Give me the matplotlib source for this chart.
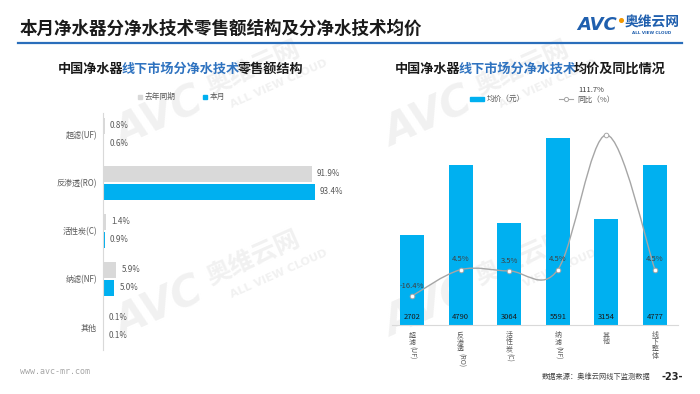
import numpy as np
import matplotlib
matplotlib.use("Agg")
import matplotlib.pyplot as plt
from matplotlib.path import Path
from matplotlib.patches import PathPatch, Rectangle
from matplotlib.lines import Line2D

plt.rcParams['font.family'] = ['Noto Sans CJK SC', 'DejaVu Sans']

# left chart: retail share by technology (%)
tech = ["超滤(UF)", "反渗透(RO)", "活性炭(C)", "纳滤(NF)", "其他"]
share_last = [0.8, 91.9, 1.4, 5.9, 0.1]
share_now = [0.6, 93.4, 0.9, 5.0, 0.1]

# right chart: average price (yuan) and yoy (%)
price_cats = ["超滤", "反渗透", "活性炭", "纳滤", "其他", "线下整体"]
price_tags = ["(UF)", "(RO)", "(C)", "(NF)", "", ""]
avg_price = [2702, 4790, 3064, 5591, 3154, 4777]
yoy = [-16.4, 4.5, 3.5, 4.5, 111.7, 4.5]

W, H = 700, 394
BLUE = "#00b0f0"
GREY = "#d9d9d9"
NAVY = "#1f5fae"
HILITE = "#2f73c0"
TXT = "#595959"


def fx(px):
    return px / W


def fy(py):
    return 1 - py / H


fig = plt.figure(figsize=(7, 3.94), dpi=100)


def watermark(x0, y0):
    kw = dict(color="#f1f1f1", rotation=24, rotation_mode="anchor",
              zorder=-5, ha="left", va="baseline")
    fig.text(fx(x0), fy(y0), "AVC", fontsize=30, fontweight="bold",
             style="italic", family="DejaVu Sans", **kw)
    fig.text(fx(x0 + 88), fy(y0 - 53), "奥维云网", fontsize=18,
             fontweight="bold", **kw)
    fig.text(fx(x0 + 110), fy(y0 - 40), "ALL VIEW CLOUD", fontsize=8,
             fontweight="bold", family="DejaVu Sans", **kw)


for wx in (122, 391):
    for wy in (148, 338):
        watermark(wx, wy)


def subtitle(xc, ybase, parts, size, pitch):
    # each coloured piece centred on its own run of full-width characters
    total = sum(len(p) for p, _ in parts)
    n = 0
    for text, col in parts:
        cx = xc + (n + len(text) / 2 - total / 2) * pitch
        fig.text(fx(cx), fy(ybase), text, fontsize=size, color=col,
                 fontweight="bold", va="baseline", ha="center")
        n += len(text)


# header
fig.text(fx(20), fy(28.5), "本月净水器分净水技术零售额结构及分净水技术均价",
         fontsize=12.6, fontweight="bold", color="#1a1a1a", va="center")
fig.add_artist(Line2D([fx(18), fx(682)], [fy(42.5), fy(42.5)],
                      transform=fig.transFigure, color="#2a6ebb", lw=1.6))
fig.text(fx(577), fy(30), "AVC", fontsize=13, fontweight="bold",
         style="italic", family="DejaVu Sans", color=NAVY, va="baseline")
fig.add_artist(Line2D([fx(621)], [fy(20)], transform=fig.transFigure,
                      marker="o", ms=2.6, color="#f39800", ls="none"))
fig.text(fx(625), fy(23), "奥维云网", fontsize=9.9, fontweight="bold",
         color=NAVY, va="center")
fig.text(fx(652), fy(32.5), "ALL VIEW CLOUD", fontsize=3, fontweight="bold",
         family="DejaVu Sans", color=NAVY, va="center", ha="center")

subtitle(180.5, 72.5, [("中国净水器", "#1a1a1a"), ("线下市场分净水技术", HILITE),
                       ("零售额结构", "#1a1a1a")], 9.45, 12.85)
subtitle(530, 72.5, [("中国净水器", "#1a1a1a"), ("线下市场分净水技术", HILITE),
                     ("均价及同比情况", "#1a1a1a")], 9.45, 12.85)

# ---- left chart ----
ax1 = fig.add_axes([fx(103), fy(350), (330 - 103) / W, (350 - 113) / H])
ax1.set_facecolor("none")
y = np.arange(len(tech))
off, bh = 9 / 48, 16 / 48
ax1.barh(y - off, share_last, height=bh, color=GREY, label="去年同期")
ax1.barh(y + off, share_now, height=bh, color=BLUE, label="本月")
for yi, a, b in zip(y, share_last, share_now):
    ax1.annotate(f"{a:.1f}%", (a, yi - off), xytext=(3.6, 0),
                 textcoords="offset points", va="center", fontsize=5.8,
                 color=TXT)
    ax1.annotate(f"{b:.1f}%", (b, yi + off), xytext=(3.6, 0),
                 textcoords="offset points", va="center", fontsize=5.8,
                 color=TXT)
ax1.set_xlim(0, 100)
ax1.set_ylim(4 + 23 / 48, -22 / 48)
ax1.set_yticks(y)
ax1.set_yticklabels(tech, fontsize=5.8, color=TXT)
ax1.tick_params(axis="y", length=0, pad=4.3)
ax1.set_xticks([])
for s in ("top", "right", "bottom"):
    ax1.spines[s].set_visible(False)
ax1.spines["left"].set_color(GREY)
ax1.spines["left"].set_linewidth(0.8)

# left legend
fig.add_artist(Rectangle((fx(138), fy(99)), 4 / W, 4 / H,
                         transform=fig.transFigure, color=GREY))
fig.text(fx(145), fy(97), "去年同期", fontsize=5.6, color=TXT, va="center")
fig.add_artist(Rectangle((fx(203), fy(99)), 4 / W, 4 / H,
                         transform=fig.transFigure, color=BLUE))
fig.text(fx(210), fy(97), "本月", fontsize=5.6, color=TXT, va="center")

# ---- right chart ----
step = 48.6
ax2 = fig.add_axes([fx(392), fy(325), (678 - 392) / W, (325 - 120) / H])
ax2.set_facecolor("none")
x = np.arange(len(price_cats))
ax2.bar(x, avg_price, width=0.49, color=BLUE, zorder=2)
ax2.set_xlim((392 - 412) / step, (678 - 412) / step)
ax2.set_ylim(0, 205 / 0.03345)
for xi, v in zip(x, avg_price):
    ax2.annotate(str(v), (xi, 0), xytext=(0, 5.8), textcoords="offset points",
                 ha="center", va="center", fontsize=5.5, color="#1a1a1a",
                 zorder=5)
ax2.set_xticks([])
ax2.set_yticks([])
for s in ("top", "right", "left"):
    ax2.spines[s].set_visible(False)
ax2.spines["bottom"].set_color(GREY)
ax2.spines["bottom"].set_linewidth(0.8)

# vertical category labels
for i, (name, tag) in enumerate(zip(price_cats, price_tags)):
    for k, ch in enumerate(name):
        ax2.annotate(ch, (i, 0), xycoords=("data", "axes fraction"),
                     xytext=(0, -(10.5 + 6.9 * k) * 0.72),
                     textcoords="offset points", ha="center", va="center",
                     fontsize=5, color=TXT)
    if tag:
        ax2.annotate(tag, (i, 0), xycoords=("data", "axes fraction"),
                     xytext=(0, -(7.5 + 6.9 * len(name)) * 0.72),
                     textcoords="offset points", ha="center", va="top",
                     rotation=270, fontsize=5, color=TXT)

ax3 = ax2.twinx()
ax3.set_ylim(-39.5, 123.6)
ax3.set_yticks([])
for s in ax3.spines.values():
    s.set_visible(False)

# smoothed yoy line (cubic bezier through the points, built in screen space)
pts = ax3.transData.transform(np.column_stack([x, yoy]))
ext = np.vstack([pts[0], pts, pts[-1]])
verts = [pts[0]]
codes = [Path.MOVETO]
for i in range(len(pts) - 1):
    p0, p1, p2, p3 = ext[i], ext[i + 1], ext[i + 2], ext[i + 3]
    verts += [p1 + (p2 - p0) / 6, p2 - (p3 - p1) / 6, p2]
    codes += [Path.CURVE4] * 3
verts = ax3.transData.inverted().transform(np.array(verts))
ax3.add_patch(PathPatch(Path(verts, codes), fill=False, edgecolor="#a6a6a6",
                        lw=1, zorder=3, clip_on=False))
ax3.plot(x, yoy, "o", ms=3.3, mfc="white", mec="#a6a6a6", mew=0.7,
         ls="none", zorder=4, clip_on=False)
for xi, v in zip(x, yoy):
    dx, dy = (-10.8, 32.5) if v > 100 else (0, 7.5)
    ax3.annotate(f"{v:.1f}%", (xi, v), xytext=(dx, dy),
                 textcoords="offset points", ha="center", va="center",
                 fontsize=5.5, color="#404040", zorder=5)

# right legend
fig.add_artist(Rectangle((fx(470), fy(101)), 14 / W, 4 / H,
                         transform=fig.transFigure, color=BLUE))
fig.text(fx(487), fy(99), "均价（元）", fontsize=5.5, color=TXT, va="center")
fig.add_artist(Line2D([fx(559), fx(573)], [fy(99), fy(99)],
                      transform=fig.transFigure, color="#a6a6a6", lw=0.8))
fig.add_artist(Line2D([fx(566)], [fy(99)], transform=fig.transFigure,
                      marker="o", ms=3, mfc="white", mec="#a6a6a6", mew=0.7,
                      ls="none"))
fig.text(fx(577), fy(100), "同比（%）", fontsize=5.5, color=TXT, va="center")

# footer
fig.text(fx(20), fy(372), "www.avc-mr.com", fontsize=6, color="#a6a6a6",
         family="DejaVu Sans Mono", va="center")
fig.text(fx(542), fy(377), "数据来源：奥维云网线下监测数据", fontsize=5.2,
         color="#404040", va="center")
fig.text(fx(662), fy(377), "-23-", fontsize=7, fontweight="bold",
         color="#262626", va="center", family="DejaVu Sans")

fig.savefig("out.png", dpi=100)
